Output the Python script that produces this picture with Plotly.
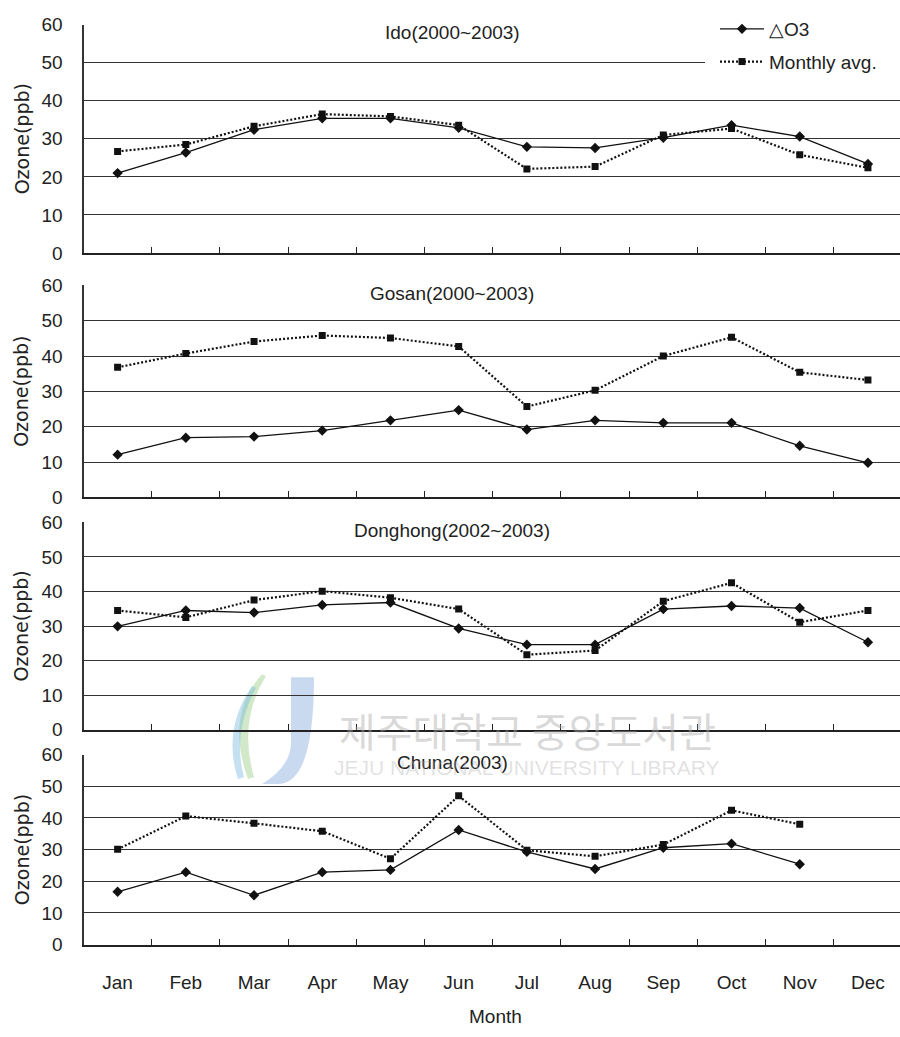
import plotly.graph_objects as go

months = ["Jan", "Feb", "Mar", "Apr", "May", "Jun", "Jul", "Aug", "Sep", "Oct", "Nov", "Dec"]

site_titles = ["Ido(2000~2003)", "Gosan(2000~2003)", "Donghong(2002~2003)", "Chuna(2003)"]

ido_do3 = [21.0, 26.4, 32.4, 35.4, 35.4, 32.9, 27.9, 27.6, 30.3, 33.6, 30.6, 23.4]
ido_avg = [26.7, 28.5, 33.3, 36.5, 35.9, 33.6, 22.1, 22.7, 31.0, 32.7, 25.8, 22.4]

gosan_do3 = [12.1, 16.9, 17.2, 18.9, 21.8, 24.7, 19.2, 21.8, 21.1, 21.1, 14.6, 9.8]
gosan_avg = [36.8, 40.7, 44.1, 45.8, 45.1, 42.7, 25.7, 30.3, 40.0, 45.3, 35.4, 33.2]

donghong_do3 = [29.9, 34.5, 33.9, 36.1, 36.8, 29.3, 24.6, 24.6, 34.9, 35.8, 35.2, 25.3]
donghong_avg = [34.5, 32.5, 37.5, 40.1, 38.2, 34.9, 21.7, 22.9, 37.2, 42.5, 31.1, 34.5]

chuna_do3 = [16.7, 22.9, 15.6, 22.9, 23.6, 36.2, 29.3, 23.9, 30.6, 31.9, 25.4, None]
chuna_avg = [30.1, 40.6, 38.3, 35.8, 27.1, 47.0, 29.8, 27.9, 31.6, 42.4, 38.0, None]

y_ticks = [0, 10, 20, 30, 40, 50, 60]
series_names = ["\u25b3O3", "Monthly avg."]
y_title = "Ozone(ppb)"
x_title = "Month"

W, H = 900, 1037
TXT = "#222222"
FONT = "Liberation Sans, Arial, sans-serif"


def px(x):
    return x / W


def py(y):
    return 1 - y / H


# pixel geometry of the four panels (top, bottom)
panels_px = [(15, 248), (281, 497.5), (523, 734.5), (760, 954)]
x_left = 83.5

data_sets = [
    (ido_do3, ido_avg),
    (gosan_do3, gosan_avg),
    (donghong_do3, donghong_avg),
    (chuna_do3, chuna_avg),
]

fig = go.Figure()
layout = {}
annotations = []

for i, ((do3, avg), (top, bot), title) in enumerate(zip(data_sets, panels_px, site_titles)):
    sfx = "" if i == 0 else str(i + 1)
    xa, ya = "x" + sfx, "y" + sfx
    fig.add_trace(go.Scatter(
        x=months, y=do3, name=series_names[0], mode="lines+markers",
        xaxis=xa, yaxis=ya, showlegend=(i == 0), legendgroup="a",
        line=dict(color="#111111", width=1.3),
        marker=dict(symbol="diamond", size=8, color="#111111"),
        connectgaps=False,
    ))
    fig.add_trace(go.Scatter(
        x=months, y=avg, name=series_names[1], mode="lines+markers",
        xaxis=xa, yaxis=ya, showlegend=(i == 0), legendgroup="b",
        line=dict(color="#111111", width=2.2, dash="2px,2px"),
        marker=dict(symbol="square", size=7, color="#111111"),
        connectgaps=False,
    ))
    layout["xaxis" + sfx] = dict(
        domain=[px(x_left), 1.0], anchor=ya,
        type="category", categoryorder="array", categoryarray=months,
        range=[-0.5, 11.47], tickson="boundaries",
        ticks="inside", ticklen=6, tickwidth=1, tickcolor=TXT,
        showline=True, linecolor=TXT, linewidth=2,
        showgrid=False, zeroline=False,
        showticklabels=(i == 3), ticklabelstandoff=20,
        tickfont=dict(family=FONT, size=19, color=TXT),
    )
    layout["yaxis" + sfx] = dict(
        domain=[py(bot), py(top)], anchor=xa,
        range=[0, 60], tickvals=y_ticks, ticktext=[str(v) for v in y_ticks],
        showgrid=True, gridcolor="#333333", gridwidth=1,
        showline=True, linecolor="#333333", linewidth=2,
        zeroline=False, ticks="", ticklabelstandoff=15,
        tickfont=dict(family=FONT, size=19, color=TXT),
    )
    annotations.append(dict(
        text=title, x=px(452), y=py(top + 8), xref="paper", yref="paper",
        xanchor="center", yanchor="middle", showarrow=False,
        font=dict(family=FONT, size=19, color=TXT),
    ))
    annotations.append(dict(
        text=y_title, x=px(21.5), y=py((top + bot) / 2), xref="paper", yref="paper",
        xanchor="center", yanchor="middle", showarrow=False, textangle=-90,
        font=dict(family="DejaVu Sans, sans-serif", size=19, color=TXT),
    ))

annotations.append(dict(
    text=x_title, x=px(495), y=py(1027), xref="paper", yref="paper",
    xanchor="center", yanchor="middle", showarrow=False,
    font=dict(family=FONT, size=19, color=TXT),
))

# library watermark
annotations.append(dict(
    text="제주대학교 중앙도서관", x=px(527), y=py(735), xref="paper", yref="paper",
    xanchor="center", yanchor="middle", showarrow=False,
    font=dict(family="Noto Sans CJK KR", size=40, color="rgba(170,170,170,0.45)"),
))
annotations.append(dict(
    text="JEJU NATIONAL UNIVERSITY LIBRARY", x=px(527), y=py(773), xref="paper", yref="paper",
    xanchor="center", yanchor="middle", showarrow=False,
    font=dict(family=FONT, size=21, color="rgba(170,170,170,0.35)"),
))


def path(points):
    s = ""
    for cmd, pts in points:
        s += cmd + " " + " ".join(f"{px(x):.5f},{py(y):.5f}" for x, y in pts) + " "
    return s + "Z"


shapes = [
    dict(type="path", xref="paper", yref="paper", layer="below",
         path=path([("M", [(291, 681)]), ("L", [(314, 681), (314, 752)]),
                    ("Q", [(314, 790), (278, 790)]), ("L", [(262, 790), (262, 772)]),
                    ("Q", [(291, 772), (291, 748)])]),
         fillcolor="rgba(120,160,215,0.40)", line=dict(width=0)),
    dict(type="path", xref="paper", yref="paper", layer="below",
         path=path([("M", [(262, 678)]), ("Q", [(225, 720), (248, 785)]),
                    ("L", [(254, 783)]), ("Q", [(238, 725), (266, 680)])]),
         fillcolor="rgba(140,200,120,0.40)", line=dict(width=0)),
    dict(type="path", xref="paper", yref="paper", layer="below",
         path=path([("M", [(252, 690)]), ("Q", [(222, 735), (238, 785)]),
                    ("L", [(244, 783)]), ("Q", [(232, 738), (256, 692)])]),
         fillcolor="rgba(110,180,220,0.40)", line=dict(width=0)),
    # white legend area covering the grid lines behind the legend
    dict(type="rect", xref="paper", yref="paper", layer="above",
         x0=px(705), x1=1.0, y0=py(80), y1=py(10),
         fillcolor="white", line=dict(width=0)),
]

fig.update_layout(
    width=W, height=H,
    margin=dict(l=0, r=0, t=0, b=0),
    paper_bgcolor="white", plot_bgcolor="white",
    showlegend=True,
    legend=dict(
        x=px(715), y=1.0, xanchor="left", yanchor="top",
        bgcolor="rgba(255,255,255,0)", borderwidth=0,
        font=dict(family=FONT, size=19, color=TXT),
        itemwidth=44, tracegroupgap=5, traceorder="grouped",
    ),
    annotations=annotations,
    shapes=shapes,
    **layout,
)

fig.write_html("out.html")
